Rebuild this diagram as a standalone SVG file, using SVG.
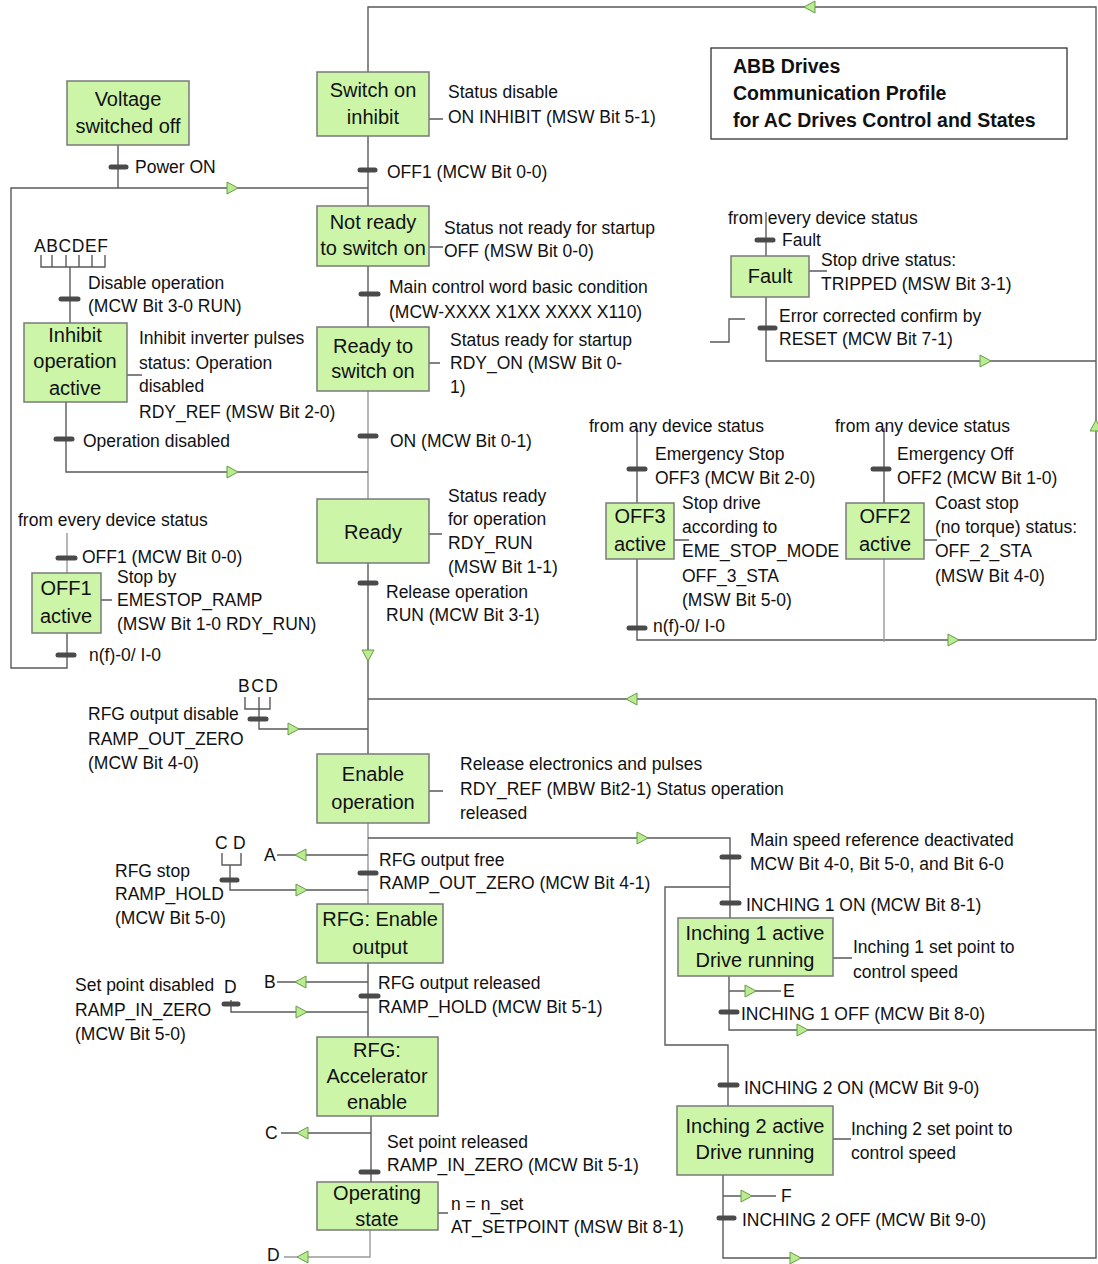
<svg xmlns="http://www.w3.org/2000/svg" xmlns:xlink="http://www.w3.org/1999/xlink" width="1098" height="1264" viewBox="0 0 1098 1264">
<style>
.bg{fill:#ffffff}
.n{fill:#ccf5a8;stroke:#7a7a7a;stroke-width:1.5}
.nt{font-family:"Liberation Sans",Arial,sans-serif;font-size:20px;fill:#111;text-anchor:middle}
.t{font-family:"Liberation Sans",Arial,sans-serif;font-size:17.5px;fill:#111}
.tb{font-family:"Liberation Sans",Arial,sans-serif;font-size:19.5px;font-weight:bold;fill:#111}
.ln{stroke:#5a5a5a;stroke-width:1.4;fill:none}
.lt{stroke:#999999;stroke-width:1.4;fill:none}
.bar{stroke:#4a4a4a;stroke-width:5;stroke-linecap:round}
.arr{fill:#b9ec8f;stroke:#6a9a4a;stroke-width:1}
.tbox{fill:#ffffff;stroke:#333;stroke-width:1.3}
</style>
<defs>
<path id="tri" class="arr" d="M-5,-6 L6,0 L-5,6 Z"/>
</defs>
<rect class="bg" x="0" y="0" width="1098" height="1264"/>

<g id="connectors">
<path class="ln" d="M368,72 V7 H1096 V640"/>
<path class="ln" d="M368,136 V206"/>
<path class="ln" d="M118,145 V188"/>
<path class="ln" d="M67,633 V668 H11 V188 H368"/>
<path class="ln" d="M368,266 V327"/>
<path class="lt" d="M368,391 V499"/>
<path class="ln" d="M41,255 V267 H105 V255 M52,255 V267 M66,255 V267 M79,255 V267 M92,255 V267 M70,267 V323"/>
<path class="ln" d="M66,402 V472 H368"/>
<path class="lt" d="M67,533 V573"/>
<path class="ln" d="M368,563 V754"/>
<path class="ln" d="M766,212 V256"/>
<path class="ln" d="M766,297 V361 H1096"/>
<path class="ln" d="M710,342 H729 V319 H745"/>
<path class="ln" d="M637,428 V503"/>
<path class="ln" d="M637,559 V640 H1096"/>
<path class="ln" d="M884,428 V503"/>
<path class="lt" d="M884,559 V642"/>
<path class="ln" d="M1096,699 H368"/>
<path class="ln" d="M245,697 V709 H270 V697 M259,697 V709 M259,709 V729 H368"/>
<path class="lt" d="M368,823 V904"/>
<path class="ln" d="M368,838 H730 V918"/>
<path class="ln" d="M277,855 H368"/>
<path class="ln" d="M222,853 V865 H241 V853 M230,865 V890 H368"/>
<path class="ln" d="M368,963 V1037"/>
<path class="ln" d="M277,982 H368"/>
<path class="ln" d="M231,1000 V1012 H368"/>
<path class="ln" d="M371,1116 V1182"/>
<path class="ln" d="M281,1133 H371"/>
<path class="lt" d="M370,1230 V1257 H284"/>
<path class="ln" d="M730,887 H665 V1045 H728 V1106"/>
<path class="ln" d="M729,976 V1030 H1096"/>
<path class="ln" d="M729,991 H781"/>
<path class="ln" d="M723,1175 V1258 H1096 V699"/>
<path class="ln" d="M723,1196 H776"/>
<path class="ln" d="M429,119 H443 M429,247 H443 M429,363 H440 M429,534 H442 M127,375 H142 M101,600 H112 M809,271 H827 M674,540 H689 M924,540 H937 M429,791 H443 M438,1213 H448 M833,958 H852 M833,1139 H851"/>
<line class="bar" x1="111" y1="167" x2="126" y2="167"/>
<line class="bar" x1="360" y1="170" x2="375" y2="170"/>
<line class="bar" x1="361" y1="294" x2="378" y2="294"/>
<line class="bar" x1="61" y1="299" x2="78" y2="299"/>
<line class="bar" x1="360" y1="436" x2="376" y2="436"/>
<line class="bar" x1="56" y1="439" x2="72" y2="439"/>
<line class="bar" x1="58" y1="558" x2="75" y2="558"/>
<line class="bar" x1="58" y1="655" x2="74" y2="655"/>
<line class="bar" x1="360" y1="583" x2="376" y2="583"/>
<line class="bar" x1="757" y1="240" x2="773" y2="240"/>
<line class="bar" x1="760" y1="328" x2="775" y2="328"/>
<line class="bar" x1="629" y1="469" x2="645" y2="469"/>
<line class="bar" x1="629" y1="628" x2="645" y2="628"/>
<line class="bar" x1="873" y1="469" x2="889" y2="469"/>
<line class="bar" x1="250" y1="719" x2="266" y2="719"/>
<line class="bar" x1="360" y1="873" x2="376" y2="873"/>
<line class="bar" x1="222" y1="880" x2="237" y2="880"/>
<line class="bar" x1="361" y1="996" x2="378" y2="996"/>
<line class="bar" x1="224" y1="1004" x2="238" y2="1004"/>
<line class="bar" x1="361" y1="1172" x2="378" y2="1172"/>
<line class="bar" x1="722" y1="857" x2="739" y2="857"/>
<line class="bar" x1="722" y1="903" x2="739" y2="903"/>
<line class="bar" x1="721" y1="1012" x2="737" y2="1012"/>
<line class="bar" x1="720" y1="1085" x2="737" y2="1085"/>
<line class="bar" x1="719" y1="1218" x2="734" y2="1218"/>
<use xlink:href="#tri" transform="translate(232,188)"/>
<use xlink:href="#tri" transform="translate(232,472)"/>
<use xlink:href="#tri" transform="translate(368,655) rotate(90)"/>
<use xlink:href="#tri" transform="translate(810,7) rotate(180)"/>
<use xlink:href="#tri" transform="translate(985,361)"/>
<use xlink:href="#tri" transform="translate(1096,426) rotate(-90)"/>
<use xlink:href="#tri" transform="translate(953,640)"/>
<use xlink:href="#tri" transform="translate(632,699) rotate(180)"/>
<use xlink:href="#tri" transform="translate(293,729)"/>
<use xlink:href="#tri" transform="translate(642,838)"/>
<use xlink:href="#tri" transform="translate(301,855) rotate(180)"/>
<use xlink:href="#tri" transform="translate(301,890)"/>
<use xlink:href="#tri" transform="translate(301,982) rotate(180)"/>
<use xlink:href="#tri" transform="translate(301,1012)"/>
<use xlink:href="#tri" transform="translate(303,1133) rotate(180)"/>
<use xlink:href="#tri" transform="translate(303,1257) rotate(180)"/>
<use xlink:href="#tri" transform="translate(750,991)"/>
<use xlink:href="#tri" transform="translate(802,1030)"/>
<use xlink:href="#tri" transform="translate(746,1196)"/>
<use xlink:href="#tri" transform="translate(795,1258)"/>
</g>

<g id="title">
<rect class="tbox" x="711" y="48" width="356" height="91"/>
<text class="tb" x="733" y="73">ABB Drives</text>
<text class="tb" x="733" y="100">Communication Profile</text>
<text class="tb" x="733" y="127">for AC Drives Control and States</text>
</g>

<g id="voltage_switched_off">
<rect class="n" x="67" y="81" width="122" height="64"/>
<text class="nt" x="128" y="106">Voltage</text>
<text class="nt" x="128" y="133">switched off</text>
</g>
<g id="switch_on_inhibit">
<rect class="n" x="317" y="72" width="112" height="64"/>
<text class="nt" x="373" y="97">Switch on</text>
<text class="nt" x="373" y="124">inhibit</text>
</g>
<g id="not_ready">
<rect class="n" x="317" y="206" width="112" height="60"/>
<text class="nt" x="373" y="229">Not ready</text>
<text class="nt" x="373" y="255">to switch on</text>
</g>
<g id="ready_to_switch_on">
<rect class="n" x="317" y="327" width="112" height="64"/>
<text class="nt" x="373" y="353">Ready to</text>
<text class="nt" x="373" y="378">switch on</text>
</g>
<g id="ready">
<rect class="n" x="317" y="499" width="112" height="64"/>
<text class="nt" x="373" y="539">Ready</text>
</g>
<g id="inhibit_operation">
<rect class="n" x="24" y="323" width="103" height="79"/>
<text class="nt" x="75" y="342">Inhibit</text>
<text class="nt" x="75" y="368">operation</text>
<text class="nt" x="75" y="395">active</text>
</g>
<g id="off1_active">
<rect class="n" x="32" y="573" width="69" height="60"/>
<text class="nt" x="66" y="595">OFF1</text>
<text class="nt" x="66" y="623">active</text>
</g>
<g id="fault">
<rect class="n" x="731" y="256" width="78" height="41"/>
<text class="nt" x="770" y="283">Fault</text>
</g>
<g id="off3_active">
<rect class="n" x="606" y="503" width="68" height="56"/>
<text class="nt" x="640" y="523">OFF3</text>
<text class="nt" x="640" y="551">active</text>
</g>
<g id="off2_active">
<rect class="n" x="846" y="503" width="78" height="56"/>
<text class="nt" x="885" y="523">OFF2</text>
<text class="nt" x="885" y="551">active</text>
</g>
<g id="enable_operation">
<rect class="n" x="317" y="754" width="112" height="69"/>
<text class="nt" x="373" y="781">Enable</text>
<text class="nt" x="373" y="809">operation</text>
</g>
<g id="rfg_enable_output">
<rect class="n" x="317" y="904" width="126" height="59"/>
<text class="nt" x="380" y="926">RFG: Enable</text>
<text class="nt" x="380" y="954">output</text>
</g>
<g id="rfg_accelerator">
<rect class="n" x="317" y="1037" width="121" height="79"/>
<text class="nt" x="377" y="1057">RFG:</text>
<text class="nt" x="377" y="1083">Accelerator</text>
<text class="nt" x="377" y="1109">enable</text>
</g>
<g id="operating_state">
<rect class="n" x="317" y="1182" width="121" height="48"/>
<text class="nt" x="377" y="1200">Operating</text>
<text class="nt" x="377" y="1226">state</text>
</g>
<g id="inching1">
<rect class="n" x="678" y="918" width="155" height="58"/>
<text class="nt" x="755" y="940">Inching 1 active</text>
<text class="nt" x="755" y="967">Drive running</text>
</g>
<g id="inching2">
<rect class="n" x="677" y="1106" width="156" height="69"/>
<text class="nt" x="755" y="1133">Inching 2 active</text>
<text class="nt" x="755" y="1159">Drive running</text>
</g>

<g id="labels">
<text class="t" x="135" y="173">Power ON</text>
<text class="t" x="448" y="98">Status disable</text>
<text class="t" x="448" y="123">ON INHIBIT (MSW Bit 5-1)</text>
<text class="t" x="387" y="178">OFF1 (MCW Bit 0-0)</text>
<text class="t" x="444" y="234">Status not ready for startup</text>
<text class="t" x="444" y="257">OFF (MSW Bit 0-0)</text>
<text class="t" x="389" y="293">Main control word basic condition</text>
<text class="t" x="389" y="318">(MCW-XXXX X1XX XXXX X110)</text>
<text class="t" x="34" y="252" textLength="74" lengthAdjust="spacing">ABCDEF</text>
<text class="t" x="88" y="289">Disable operation</text>
<text class="t" x="88" y="312">(MCW Bit 3-0 RUN)</text>
<text class="t" x="139" y="344">Inhibit inverter pulses</text>
<text class="t" x="139" y="369">status: Operation</text>
<text class="t" x="139" y="392">disabled</text>
<text class="t" x="139" y="418">RDY_REF (MSW Bit 2-0)</text>
<text class="t" x="450" y="346">Status ready for startup</text>
<text class="t" x="450" y="369">RDY_ON (MSW Bit 0-</text>
<text class="t" x="450" y="393">1)</text>
<text class="t" x="390" y="447">ON (MCW Bit 0-1)</text>
<text class="t" x="83" y="447">Operation disabled</text>
<text class="t" x="448" y="502">Status ready</text>
<text class="t" x="448" y="525">for operation</text>
<text class="t" x="448" y="549">RDY_RUN</text>
<text class="t" x="448" y="573">(MSW Bit 1-1)</text>
<text class="t" x="386" y="598">Release operation</text>
<text class="t" x="386" y="621">RUN (MCW Bit 3-1)</text>
<text class="t" x="18" y="526">from every device status</text>
<text class="t" x="82" y="563">OFF1 (MCW Bit 0-0)</text>
<text class="t" x="117" y="583">Stop by</text>
<text class="t" x="117" y="606">EMESTOP_RAMP</text>
<text class="t" x="117" y="630">(MSW Bit 1-0 RDY_RUN)</text>
<text class="t" x="89" y="661">n(f)-0/ I-0</text>
<text class="t" x="728" y="224">from every device status</text>
<text class="t" x="782" y="246">Fault</text>
<text class="t" x="821" y="266">Stop drive status:</text>
<text class="t" x="821" y="290">TRIPPED (MSW Bit 3-1)</text>
<text class="t" x="779" y="322">Error corrected confirm by</text>
<text class="t" x="779" y="345">RESET (MCW Bit 7-1)</text>
<text class="t" x="589" y="432">from any device status</text>
<text class="t" x="655" y="460">Emergency Stop</text>
<text class="t" x="655" y="484">OFF3 (MCW Bit 2-0)</text>
<text class="t" x="682" y="509">Stop drive</text>
<text class="t" x="682" y="533">according to</text>
<text class="t" x="682" y="557">EME_STOP_MODE</text>
<text class="t" x="682" y="582">OFF_3_STA</text>
<text class="t" x="682" y="606">(MSW Bit 5-0)</text>
<text class="t" x="653" y="632">n(f)-0/ I-0</text>
<text class="t" x="835" y="432">from any device status</text>
<text class="t" x="897" y="460">Emergency Off</text>
<text class="t" x="897" y="484">OFF2 (MCW Bit 1-0)</text>
<text class="t" x="935" y="509">Coast stop</text>
<text class="t" x="935" y="533">(no torque) status:</text>
<text class="t" x="935" y="557">OFF_2_STA</text>
<text class="t" x="935" y="582">(MSW Bit 4-0)</text>
<text class="t" x="238" y="692" textLength="40" lengthAdjust="spacing">BCD</text>
<text class="t" x="88" y="720">RFG output disable</text>
<text class="t" x="88" y="745">RAMP_OUT_ZERO</text>
<text class="t" x="88" y="769">(MCW Bit 4-0)</text>
<text class="t" x="460" y="770">Release electronics and pulses</text>
<text class="t" x="460" y="795">RDY_REF (MBW Bit2-1) Status operation</text>
<text class="t" x="460" y="819">released</text>
<text class="t" x="215" y="849">C</text>
<text class="t" x="233" y="849">D</text>
<text class="t" x="264" y="861">A</text>
<text class="t" x="379" y="866">RFG output free</text>
<text class="t" x="379" y="889">RAMP_OUT_ZERO (MCW Bit 4-1)</text>
<text class="t" x="115" y="877">RFG stop</text>
<text class="t" x="115" y="900">RAMP_HOLD</text>
<text class="t" x="115" y="924">(MCW Bit 5-0)</text>
<text class="t" x="750" y="846">Main speed reference deactivated</text>
<text class="t" x="750" y="870">MCW Bit 4-0, Bit 5-0, and Bit 6-0</text>
<text class="t" x="746" y="911">INCHING 1 ON (MCW Bit 8-1)</text>
<text class="t" x="853" y="953">Inching 1 set point to</text>
<text class="t" x="853" y="978">control speed</text>
<text class="t" x="783" y="997">E</text>
<text class="t" x="741" y="1020">INCHING 1 OFF (MCW Bit 8-0)</text>
<text class="t" x="264" y="988">B</text>
<text class="t" x="378" y="989">RFG output released</text>
<text class="t" x="378" y="1013">RAMP_HOLD (MCW Bit 5-1)</text>
<text class="t" x="75" y="991">Set point disabled</text>
<text class="t" x="75" y="1016">RAMP_IN_ZERO</text>
<text class="t" x="75" y="1040">(MCW Bit 5-0)</text>
<text class="t" x="224" y="993">D</text>
<text class="t" x="744" y="1094">INCHING 2 ON (MCW Bit 9-0)</text>
<text class="t" x="851" y="1135">Inching 2 set point to</text>
<text class="t" x="851" y="1159">control speed</text>
<text class="t" x="265" y="1139">C</text>
<text class="t" x="387" y="1148">Set point released</text>
<text class="t" x="387" y="1171">RAMP_IN_ZERO (MCW Bit 5-1)</text>
<text class="t" x="451" y="1210">n = n_set</text>
<text class="t" x="451" y="1233">AT_SETPOINT (MSW Bit 8-1)</text>
<text class="t" x="781" y="1202">F</text>
<text class="t" x="742" y="1226">INCHING 2 OFF (MCW Bit 9-0)</text>
<text class="t" x="267" y="1261">D</text>
</g>
</svg>
